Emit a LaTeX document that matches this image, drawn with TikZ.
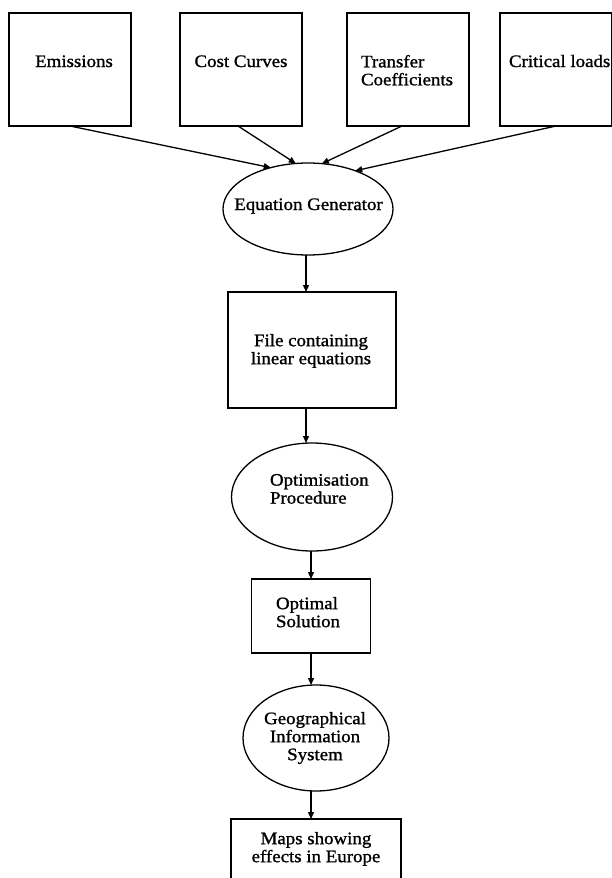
\documentclass[tikz,border=0pt]{standalone}
\usepackage{fontspec}
\setmainfont[FakeStretch=1.08,FakeBold=1.2]{Liberation Serif}
\usetikzlibrary{arrows.meta,shapes.geometric}
\begin{document}
\begin{tikzpicture}[x=1pt,y=-1pt,
  every node/.style={inner sep=0pt,outer sep=0pt},
  boxshape/.style={draw,line width=1.3pt,rectangle},
  ellshape/.style={draw,line width=1.3pt,ellipse},
  lbl/.style={font=\fontsize{17.5}{18}\selectfont},
  conn/.style={line width=1.3pt,-{Triangle[length=7pt,width=6pt]}}]
\useasboundingbox (0,0) rectangle (612,878);
\clip (0,0) rectangle (612,878);
% top boxes
\node[boxshape,minimum width=122pt,minimum height=113pt] (em) at (70,69.5) {};
\node[boxshape,minimum width=122pt,minimum height=113pt] (cc) at (241,69.5) {};
\node[boxshape,minimum width=122pt,minimum height=113pt] (tc) at (408,69.5) {};
\node[boxshape,minimum width=112pt,minimum height=113pt] (cl) at (556,69.5) {};
\node[lbl,anchor=base] (emT) at (74,67) {Emissions};
\node[lbl,anchor=base] (ccT) at (241,67) {Cost Curves};
\node[lbl,anchor=north west,align=left] (tcT) at (361,55) {Transfer\\Coefficients};
\node[lbl,anchor=base west] (clT) at (509,67) {Critical loads};
% equation generator
\node[ellshape,minimum width=170pt,minimum height=92pt] (eg) at (308,209) {};
\node[lbl,anchor=base] (egT) at (308.5,210) {Equation Generator};
% file box
\node[boxshape,minimum width=168pt,minimum height=116pt] (fb) at (312,350) {};
\node[lbl,anchor=north,align=center] (fbT) at (311,334) {File containing\\linear equations};
% optimisation
\node[ellshape,minimum width=161pt,minimum height=108pt] (op) at (312,497) {};
\node[lbl,anchor=north west,align=left] (opT) at (270,474) {Optimisation\\Procedure};
% optimal solution
\node[boxshape,minimum width=119pt,minimum height=74pt] (os) at (311,616) {};
\node[lbl,anchor=north west,align=left] (osT) at (276,597) {Optimal\\Solution};
% GIS
\node[ellshape,minimum width=146pt,minimum height=106pt] (gis) at (316,738) {};
\node[lbl,anchor=north,align=center] (gisT) at (315,712) {Geographical\\Information\\System};
% maps
\node[boxshape,minimum width=170pt,minimum height=82pt] (mp) at (316,860) {};
\node[lbl,anchor=north,align=center] (mpT) at (316,832) {Maps showing\\effects in Europe};
% connectors
\draw[conn] (em.south) -- (eg.132.8);
\draw[conn] ([xshift=-3pt]cc.south) -- (eg.105.8);
\draw[conn] ([xshift=-6pt]tc.south) -- (eg.73.4);
\draw[conn] (cl.south) -- (eg.39);
\draw[conn] ([xshift=-2pt]eg.south) -- ([xshift=-2pt]eg.south |- fb.north);
\draw[conn] ([xshift=-6pt]fb.south) -- ([xshift=-6pt]fb.south |- op.north);
\draw[conn] ([xshift=-1pt]op.south) -- ([xshift=-1pt]op.south |- os.north);
\draw[conn] (os.south) -- (os.south |- gis.north);
\draw[conn] ([xshift=-5pt]gis.south) -- ([xshift=-5pt]gis.south |- mp.north);
\end{tikzpicture}
\end{document}
